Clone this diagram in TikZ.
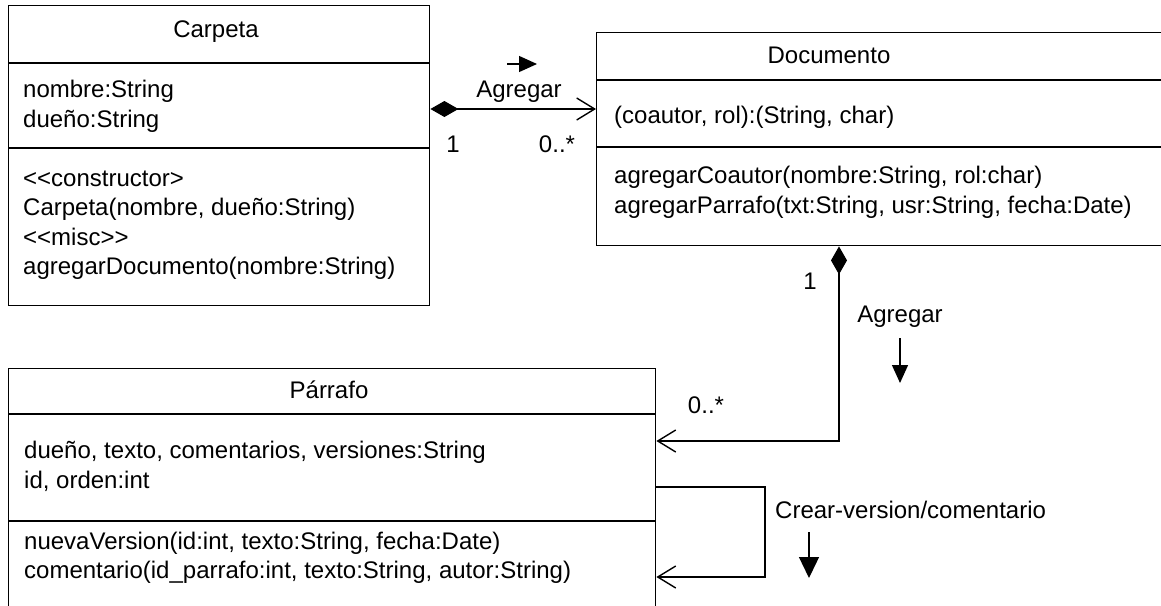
\documentclass[tikz,border=0pt]{standalone}
\usepackage{fontspec}
\newfontfamily\umlfont{Liberation Sans}
\usetikzlibrary{arrows.meta}
\begin{document}
\begin{tikzpicture}[x=1pt,y=-1pt,
  box/.style={draw, line width=1.4pt, inner sep=0pt, anchor=north west},
  sepline/.style={line width=1.4pt},
  txt/.style={anchor=base west, inner sep=0pt, font=\umlfont\fontsize{24}{29}\selectfont},
  ctxt/.style={anchor=base, inner sep=0pt, font=\umlfont\fontsize{24}{29}\selectfont},
  conn/.style={line width=1.4pt},
  comp/.style={conn, {Diamond[length=28pt,width=16pt]}-{Straight Barb[length=18pt,width=22pt]}},
  nav/.style={conn, -{Straight Barb[length=18pt,width=22pt]}},
  dirarrow/.style={line width=1.3pt, -{Triangle[length=18pt,width=16pt]}}
]
\useasboundingbox (0,0) rectangle (1161,605);
\clip (0,0) rectangle (1161,605);
% ---------- boxes
\node[box, minimum width=421pt, minimum height=300pt] (carpeta) at (8,5) {};
\node[box, minimum width=640pt, minimum height=213pt] (documento) at (596,32) {};
\node[box, minimum width=647pt, minimum height=260pt] (parrafo) at (8,368) {};
% separators
\draw[sepline] (carpeta.west |- 0,63) -- (carpeta.east |- 0,63);
\draw[sepline] (carpeta.west |- 0,148) -- (carpeta.east |- 0,148);
\draw[sepline] (documento.west |- 0,80) -- (documento.east |- 0,80);
\draw[sepline] (documento.west |- 0,147) -- (documento.east |- 0,147);
\draw[sepline] (parrafo.west |- 0,414) -- (parrafo.east |- 0,414);
\draw[sepline] (parrafo.west |- 0,521) -- (parrafo.east |- 0,521);
% ---------- Carpeta texts
\node[ctxt] (cT) at (216,37) {Carpeta};
\node[txt] (cA1) at (23,97.5) {nombre:String};
\node[txt] (cA2) at (23,127.5) {dueño:String};
\node[txt] (cM1) at (23,186) {<<constructor>};
\node[txt] (cM2) at (23,215.5) {Carpeta(nombre, dueño:String)};
\node[txt] (cM3) at (23,245) {<<misc>>};
\node[txt] (cM4) at (23,274.5) {agregarDocumento(nombre:String)};
% ---------- Documento texts
\node[ctxt] (dT) at (829,63) {Documento};
\node[txt] (dA1) at (614,123) {(coautor, rol):(String, char)};
\node[txt] (dM1) at (614,183) {agregarCoautor(nombre:String, rol:char)};
\node[txt] (dM2) at (614,213) {agregarParrafo(txt:String, usr:String, fecha:Date)};
% ---------- Parrafo texts
\node[ctxt] (pT) at (329,398) {Párrafo};
\node[txt] (pA1) at (24,458) {dueño, texto, comentarios, versiones:String};
\node[txt] (pA2) at (24,488) {id, orden:int};
\node[txt] (pM1) at (24,549) {nuevaVersion(id:int, texto:String, fecha:Date)};
\node[txt] (pM2) at (24,578) {comentario(id\_parrafo:int, texto:String, autor:String)};
% ---------- association Carpeta -> Documento
\coordinate (a1) at (0,109);
\draw[comp] (carpeta.east |- a1) -- (documento.west |- a1);
\node[ctxt] (l1) at (519,97) {Agregar};
\node[ctxt] (m1a) at (453,152) {1};
\node[ctxt] (m1b) at (557,152) {0..*};
\coordinate (d1s) at (507,64);
\coordinate (d1e) at (537,64);
\draw[dirarrow] (d1s) -- (d1e);
% ---------- composition Documento -> Parrafo
\coordinate (a2) at (839,441);
\draw[comp] (documento.south west -| a2) |- (parrafo.east |- a2);
\node[ctxt] (m2a) at (810,289) {1};
\node[ctxt] (l2) at (900,322) {Agregar};
\node[ctxt] (m2b) at (706,413) {0..*};
\coordinate (d2s) at (900,338);
\coordinate (d2e) at (900,383);
\draw[dirarrow] (d2s) -- (d2e);
% ---------- self association on Parrafo
\coordinate (a3t) at (765,487);
\coordinate (a3b) at (765,577);
\draw[nav] (parrafo.east |- a3t) -- (a3t) -- (a3b) -- (parrafo.east |- a3b);
\node[txt] (l3) at (775,518) {Crear-version/comentario};
\coordinate (d3s) at (809,532);
\coordinate (d3e) at (809,578);
\draw[line width=1.3pt, -{Triangle[length=21pt,width=20pt]}] (d3s) -- (d3e);
\end{tikzpicture}
\end{document}
